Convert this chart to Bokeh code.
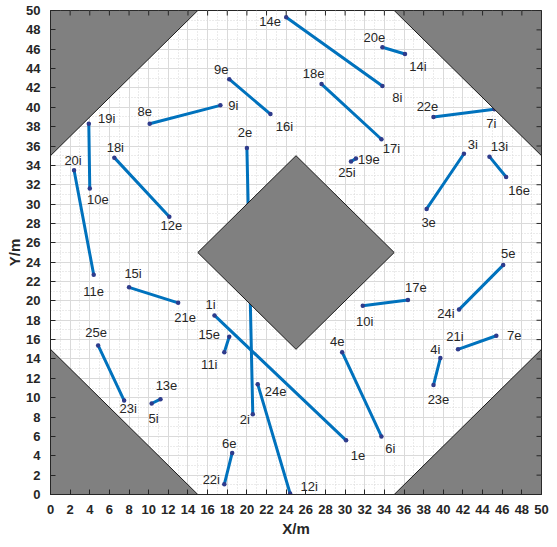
from math import pi
from bokeh.plotting import figure
from bokeh.models import ColumnDataSource, Range1d, FixedTicker
from bokeh.core.properties import value
from bokeh.embed import file_html
from bokeh.resources import INLINE

# ---------------- data ----------------
start_labels = ["14e", "20e", "18e", "22e", "25i", "3i", "13i", "5e", "17e", "7e", "4i", "4e", "1i",
                "24e", "2e", "9e", "8e", "19i", "20i", "18i", "15i", "15e", "25e", "5i", "6e"]
start_x = [24.0, 33.8, 27.6, 39.0, 30.6, 42.1, 44.7, 46.1, 36.4, 45.4, 39.7, 29.7, 16.7,
           21.1, 20.0, 18.2, 10.1, 3.9, 2.4, 6.5, 8.0, 18.2, 4.85, 10.3, 18.5]
start_y = [49.3, 46.2, 42.4, 39.0, 34.4, 35.2, 34.9, 23.7, 20.1, 16.4, 14.1, 14.7, 18.5,
           11.4, 35.8, 42.9, 38.3, 38.3, 33.5, 34.8, 21.4, 16.3, 15.4, 9.4, 4.3]
end_labels = ["8i", "14i", "17i", "7i", "19e", "3e", "16e", "24i", "10i", "21i", "23e", "6i", "1e",
              "12i", "2i", "16i", "9i", "10e", "11e", "12e", "21e", "11i", "23i", "13e", "22i"]
end_x = [33.8, 36.1, 33.7, 45.2, 31.1, 38.3, 46.4, 41.6, 31.8, 41.5, 39.0, 33.7, 30.1,
         24.4, 20.6, 22.4, 17.3, 4.0, 4.4, 12.1, 13.0, 17.7, 7.5, 11.2, 17.7]
end_y = [42.2, 45.5, 36.7, 39.8, 34.7, 29.5, 32.8, 19.1, 19.5, 15.0, 11.3, 6.0, 5.6,
         0.1, 8.3, 39.3, 40.2, 31.6, 22.7, 28.7, 19.8, 14.7, 9.7, 9.85, 1.05]

# obstacles (polygons)
obstacle_xs = [[0, 15, 0], [35, 50, 50], [0, 15, 0], [35, 50, 50], [15, 25, 35, 25]]
obstacle_ys = [[50, 50, 35], [50, 50, 35], [0, 0, 15], [0, 0, 15], [25, 35, 25, 15]]

x_ticks = list(range(0, 51, 2))
y_ticks = list(range(0, 51, 2))
x_min, x_max = 0, 50
y_min, y_max = 0, 50

# ---------------- layout of point labels (screen px offsets) ----------------
label_offsets = {
    "14e": (-16, 4), "8i": (15, 11), "20e": (-8, -10), "14i": (13, 12), "18e": (-8, -11),
    "17i": (10, 9), "22e": (-6, -10), "7i": (-3, 14), "19e": (13, 1), "25i": (-4, 11),
    "3i": (9, -9), "13i": (10, -10), "16e": (13, 14), "3e": (2, 14), "5e": (5, -12),
    "24i": (-13, 4), "17e": (8, -12), "10i": (2, 16), "7e": (18, 0), "21i": (-3, -13),
    "4i": (-5, -9), "23e": (5, 14), "4e": (-5, -11), "6i": (9, 12), "1e": (12, 15),
    "12i": (19, -7), "24e": (18, 7), "2i": (-8, 5), "2e": (-2, -15), "9e": (-8, -10),
    "16i": (14, 12), "9i": (13, 0), "8e": (-5, -12), "19i": (18, -5), "20i": (-1, -10),
    "18i": (1, -10), "10e": (8, 11), "11e": (0, 17), "12e": (2, 9), "15i": (4, -14),
    "21e": (7, 15), "1i": (-4, -11), "15e": (-20, -2), "11i": (-15, 12), "25e": (-2, -13),
    "23i": (4, 8), "13e": (6, -14), "5i": (2, 15), "6e": (-3, -9), "22i": (-13, -5),
}

TXT = "#262626"
FONT = "Liberation Sans"

p = figure(width=549, height=539, output_backend="svg", toolbar_location=None,
           x_range=Range1d(x_min, x_max), y_range=Range1d(y_min, y_max),
           min_border_left=50, min_border_right=8, min_border_top=10, min_border_bottom=42)
p.background_fill_color = "white"
p.border_fill_color = "white"
p.outline_line_color = TXT

for ax, ticks, lab in ((p.xaxis[0], x_ticks, "X/m"), (p.yaxis[0], y_ticks, "Y/m")):
    ax.ticker = FixedTicker(ticks=ticks, minor_ticks=list(range(0, 51)))
    ax.axis_label = lab
    ax.axis_label_text_font = FONT
    ax.axis_label_text_font_style = "bold"
    ax.axis_label_text_font_size = "15px"
    ax.axis_label_text_color = TXT
    ax.major_label_text_font = FONT
    ax.major_label_text_font_style = "bold"
    ax.major_label_text_font_size = "13px"
    ax.major_label_text_color = TXT
    ax.axis_line_color = TXT
    ax.major_tick_line_color = TXT
    ax.major_tick_in = 5
    ax.major_tick_out = 0
    ax.minor_tick_line_color = None

p.xaxis[0].major_label_standoff = 6
p.xaxis[0].axis_label_standoff = 3
p.yaxis[0].major_label_standoff = 6
p.yaxis[0].axis_label_standoff = 0

for g in (p.xgrid[0], p.ygrid[0]):
    g.grid_line_color = "#dadada"
    g.grid_line_width = 1
    g.minor_grid_line_color = "#d6d6d6"
    g.minor_grid_line_dash = "1 2"
    g.minor_grid_line_width = 1

# segments
seg = ColumnDataSource(dict(x0=start_x, y0=start_y, x1=end_x, y1=end_y))
p.segment("x0", "y0", "x1", "y1", source=seg, line_color="#0072BD", line_width=3, line_cap="round")

# endpoint dots
px_all = start_x + end_x
py_all = start_y + end_y
p.scatter(px_all, py_all, size=4.5, fill_color="#2f3c8c", line_color=None)

# obstacles
p.patches(obstacle_xs, obstacle_ys, fill_color="#808080", line_color="#1a1a1a", line_width=1)

# tick marks on the top and right edges of the box (inward half visible)
p.scatter(x_ticks, [y_max] * len(x_ticks), marker="dash", angle=pi / 2, size=10,
          line_color=TXT, line_width=1)
p.scatter([x_max] * len(y_ticks), y_ticks, marker="dash", angle=0, size=10,
          line_color=TXT, line_width=1)

# labels
all_labels = start_labels + end_labels
lab_src = ColumnDataSource(dict(
    x=px_all, y=py_all, text=all_labels,
    xo=[label_offsets[l][0] for l in all_labels],
    yo=[label_offsets[l][1] for l in all_labels],
))
p.text("x", "y", text="text", x_offset="xo", y_offset="yo", source=lab_src,
       text_font=value(FONT), text_font_size="13px", text_color=TXT,
       text_align="center", text_baseline="middle")

open("out.html", "w").write(file_html(p, INLINE))
